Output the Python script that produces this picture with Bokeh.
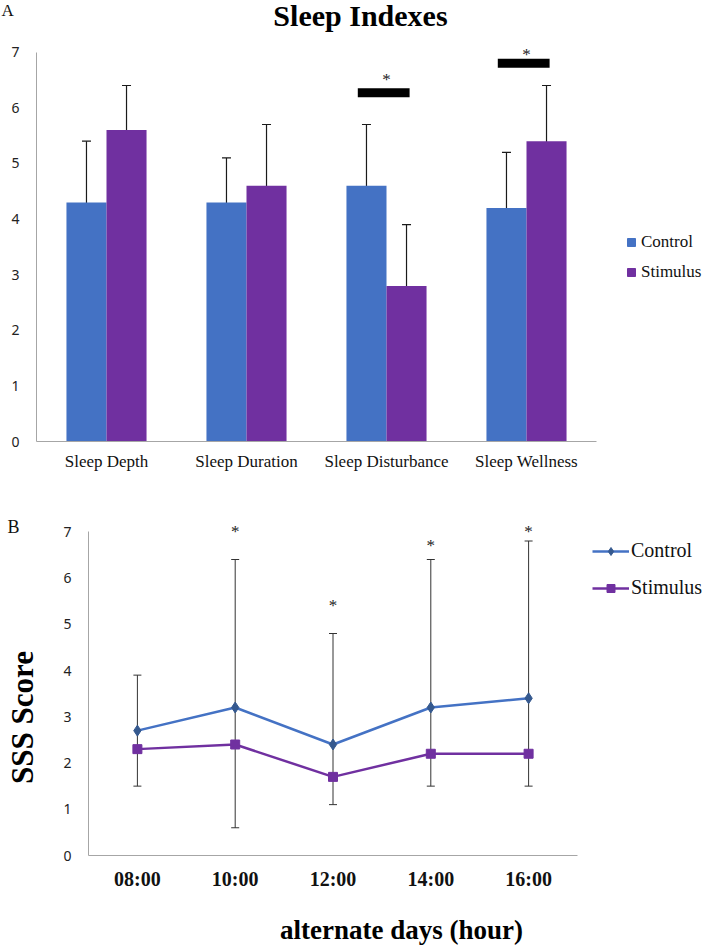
import numpy as np
from bokeh.plotting import figure
from bokeh.models import (ColumnDataSource, Range1d, FixedTicker, Whisker, TeeHead,
                          Legend, LegendItem, Label)
from bokeh.layouts import column
from bokeh.embed import file_html
from bokeh.resources import INLINE
from bokeh.core.properties import value

# ---------------- Panel A data ----------------
categories_a = ["Sleep Depth", "Sleep Duration", "Sleep Disturbance", "Sleep Wellness"]
control_a = [4.3, 4.3, 4.6, 4.2]
stimulus_a = [5.6, 4.6, 2.8, 5.4]
control_a_low = [3.2, 3.5, 3.5, 3.2]
control_a_high = [5.4, 5.1, 5.7, 5.2]
stimulus_a_low = [4.8, 3.5, 1.7, 4.4]
stimulus_a_high = [6.4, 5.7, 3.9, 6.4]
sig_a_categories = ["Sleep Disturbance", "Sleep Wellness"]
sig_a_bar_level = [6.27, 6.8]
sig_a_star_level = [6.5, 6.95]
y_ticks = [0, 1, 2, 3, 4, 5, 6, 7]

# ---------------- Panel B data ----------------
hours_b = ["08:00", "10:00", "12:00", "14:00", "16:00"]
control_b = [2.7, 3.2, 2.4, 3.2, 3.4]
stimulus_b = [2.3, 2.4, 1.7, 2.2, 2.2]
control_b_high = [3.9, 6.4, 4.8, 6.4, 6.8]
stimulus_b_low = [1.5, 0.6, 1.1, 1.5, 1.5]
sig_b_hours = ["10:00", "12:00", "14:00", "16:00"]
sig_b_star_level = [7.0, 5.4, 6.7, 7.0]

BLUE = "#4472C4"
PURPLE = "#7030A0"
AXIS = "#A6A6A6"
SERIF = "Liberation Serif"
SANS = "Noto Sans"
W = 704

def style_axes(p, xbounds, ybounds):
    p.outline_line_color = None
    p.xgrid.visible = False
    p.ygrid.visible = False
    p.background_fill_color = "white"
    p.border_fill_color = "white"
    for ax in (p.xaxis[0], p.yaxis[0]):
        ax.axis_line_color = AXIS
        ax.axis_line_width = 1
        ax.major_tick_line_color = None
        ax.minor_tick_line_color = None
        ax.major_tick_out = 0
        ax.major_tick_in = 0
        ax.fixed_location = 0
    p.xaxis[0].bounds = xbounds
    p.yaxis[0].bounds = ybounds
    p.yaxis[0].ticker = FixedTicker(ticks=y_ticks)
    p.yaxis[0].major_label_text_font = SANS
    p.yaxis[0].major_label_text_font_size = "14px"
    p.yaxis[0].major_label_text_color = "#222222"

# ================= Panel A =================
HA = 495
AX_A, AY_A = 36, 441.3   # axis origin in pixels
PX_A = 140.0              # px per category
PY_A = 55.67              # px per unit
pA = figure(width=W, height=HA,
            x_range=Range1d(-AX_A / PX_A, (W - AX_A) / PX_A),
            y_range=Range1d(-(HA - AY_A) / PY_A, AY_A / PY_A),
            output_backend="svg", toolbar_location=None, title=None, min_border=0)
style_axes(pA, (0, len(categories_a)), (0, 7))

xa = np.arange(len(categories_a)) + 0.5
bw = 0.286
src_a = ColumnDataSource(dict(
    xc=xa - bw / 2, xs=xa + bw / 2,
    control=control_a, stimulus=stimulus_a,
    c_lo=control_a_low, c_hi=control_a_high,
    s_lo=stimulus_a_low, s_hi=stimulus_a_high))

pA.vbar(x="xc", top="control", width=bw, bottom=0, source=src_a,
        fill_color=BLUE, line_color=None)
pA.vbar(x="xs", top="stimulus", width=bw, bottom=0, source=src_a,
        fill_color=PURPLE, line_color=None)

for base, lo, hi in (("xc", "c_lo", "c_hi"), ("xs", "s_lo", "s_hi")):
    w = Whisker(source=src_a, base=base, lower=lo, upper=hi, dimension="height",
                line_color="#1a1a1a", line_width=1.2,
                upper_head=TeeHead(size=9, line_color="#1a1a1a", line_width=1.2),
                lower_head=TeeHead(size=9, line_color="#1a1a1a", line_width=1.2))
    pA.add_layout(w)

sig_x_a = [xa[categories_a.index(c)] - 0.02 for c in sig_a_categories]
pA.rect(x=sig_x_a, y=sig_a_bar_level, width=0.37, height=9, height_units="screen",
        fill_color="black", line_color=None)
pA.text(x=[xa[categories_a.index(c)] for c in sig_a_categories], y=sig_a_star_level,
        text=["*"] * len(sig_a_categories), text_font=value(SERIF), text_font_size="17px",
        text_align="center", text_baseline="middle", text_color="#222222")

pA.xaxis[0].ticker = FixedTicker(ticks=list(xa))
pA.xaxis[0].major_label_overrides = {float(x): c for x, c in zip(xa, categories_a)}
pA.xaxis[0].major_label_text_font = SERIF
pA.xaxis[0].major_label_text_font_size = "17px"
pA.xaxis[0].major_label_text_color = "#111111"
pA.xaxis[0].major_label_standoff = 10
pA.yaxis[0].major_label_standoff = 17

# legend proxies (a single undrawn NaN point each, used only for the legend swatch)
nan_pt = np.array([np.nan])
lc = pA.scatter(x=nan_pt, y=nan_pt, marker="square", size=10, fill_color=BLUE, line_color=BLUE)
ls = pA.scatter(x=nan_pt, y=nan_pt, marker="square", size=10, fill_color=PURPLE, line_color=PURPLE)
legA = Legend(items=[LegendItem(label="Control", renderers=[lc]),
                     LegendItem(label="Stimulus", renderers=[ls])],
              location=(621, 213), glyph_width=20, glyph_height=20, label_height=20,
              spacing=10, padding=0, margin=0, label_standoff=0,
              border_line_color=None, background_fill_alpha=0,
              label_text_font=SERIF, label_text_font_size="17px", label_text_color="#111111")
pA.add_layout(legA)

pA.add_layout(Label(x=2.314, y=7.658, text="Sleep Indexes", text_font=SERIF,
                    text_font_size="30px", text_font_style="bold", text_align="center",
                    text_baseline="alphabetic", text_color="black"))
pA.add_layout(Label(x=-0.25, y=7.748, text="A", text_font=SERIF, text_font_size="17px",
                    text_align="left", text_baseline="middle", text_color="#111111"))

# ================= Panel B =================
HB = 948 - HA
AX_B, AY_B = 88, 855 - HA
PX_B = 97.8
PY_B = 46.25
pB = figure(width=W, height=HB,
            x_range=Range1d(-AX_B / PX_B, (W - AX_B) / PX_B),
            y_range=Range1d(-(HB - AY_B) / PY_B, AY_B / PY_B),
            output_backend="svg", toolbar_location=None, title=None, min_border=0)
style_axes(pB, (0, len(hours_b)), (0, 7))

xb = np.arange(len(hours_b)) + 0.5
src_b = ColumnDataSource(dict(x=xb, control=control_b, stimulus=stimulus_b,
                              hi=control_b_high, lo=stimulus_b_low))

wb = Whisker(source=src_b, base="x", lower="lo", upper="hi", dimension="height",
             line_color="#333333", line_width=1,
             upper_head=TeeHead(size=8, line_color="#333333", line_width=1),
             lower_head=TeeHead(size=8, line_color="#333333", line_width=1),
             level="underlay")
pB.add_layout(wb)

l1 = pB.line(x="x", y="control", source=src_b, line_color=BLUE, line_width=2.5)
m1 = pB.scatter(x="x", y="control", source=src_b, marker="diamond", size=11,
                fill_color="#35598F", line_color="#35598F")
l2 = pB.line(x="x", y="stimulus", source=src_b, line_color=PURPLE, line_width=2.5)
m2 = pB.scatter(x="x", y="stimulus", source=src_b, marker="square", size=9,
                fill_color=PURPLE, line_color=PURPLE)

pB.text(x=[xb[hours_b.index(h)] for h in sig_b_hours], y=sig_b_star_level,
        text=["*"] * len(sig_b_hours), text_font=value(SERIF), text_font_size="17px",
        text_align="center", text_baseline="middle", text_color="#222222")

pB.xaxis[0].ticker = FixedTicker(ticks=list(xb))
pB.xaxis[0].major_label_overrides = {float(x): h for x, h in zip(xb, hours_b)}
pB.xaxis[0].major_label_text_font = SERIF
pB.xaxis[0].major_label_text_font_size = "20px"
pB.xaxis[0].major_label_text_font_style = "bold"
pB.xaxis[0].major_label_text_color = "#111111"
pB.xaxis[0].major_label_standoff = 12
pB.yaxis[0].major_label_standoff = 17

legB = Legend(items=[LegendItem(label="Control", renderers=[l1, m1]),
                     LegendItem(label="Stimulus", renderers=[l2, m2])],
              location=(592, 349), glyph_width=37, glyph_height=20, label_height=20,
              spacing=14, padding=0, margin=0, label_standoff=2,
              border_line_color=None, background_fill_alpha=0,
              label_text_font=SERIF, label_text_font_size="20px", label_text_color="#111111")
pB.add_layout(legB)

pB.add_layout(Label(x=-0.828, y=7.092, text="B", text_font=SERIF, text_font_size="18px",
                    text_align="left", text_baseline="middle", text_color="#111111"))
pB.add_layout(Label(x=-0.675, y=2.984, text="SSS Score", text_font=SERIF,
                    text_font_size="31px", text_font_style="bold", angle=np.pi / 2,
                    text_align="center", text_baseline="middle", text_color="black"))
pB.add_layout(Label(x=3.2, y=-1.6, text="alternate days (hour)", text_font=SERIF,
                    text_font_size="27px", text_font_style="bold", text_align="center",
                    text_baseline="middle", text_color="black"))

layout = column(pA, pB)
open("out.html", "w").write(file_html(layout, INLINE))
